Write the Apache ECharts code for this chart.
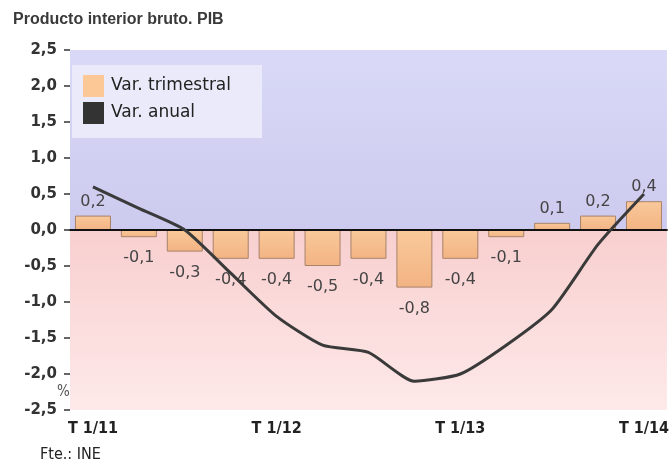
<!DOCTYPE html>
<html>
<head>
<meta charset="utf-8">
<script src="https://cdn.jsdelivr.net/npm/echarts@6/dist/echarts.min.js"></script>
<style>
  html, body { margin: 0; padding: 0; background: #fff; }
  #chart { width: 672px; height: 468px; }
</style>
</head>
<body>
<div id="chart"></div>
<script>
  // trimestres
  const categories = ['T 1/11', 'T 2/11', 'T 3/11', 'T 4/11', 'T 1/12', 'T 2/12', 'T 3/12',
    'T 4/12', 'T 1/13', 'T 2/13', 'T 3/13', 'T 4/13', 'T 1/14']
  const varTrimestral = [0.2, -0.1, -0.3, -0.4, -0.4, -0.5, -0.4, -0.8, -0.4, -0.1, 0.1, 0.2, 0.4]
  const varAnual = [0.6, 0.3, 0.0, -0.6, -1.2, -1.6, -1.7, -2.1, -2.0, -1.6, -1.1, -0.2, 0.5]

  const coma = v => Number(v).toFixed(1).replace('.', ',')
  const font = '"Liberation Sans", Arial, sans-serif'
  const wide = '"DejaVu Sans", Verdana, sans-serif'
  const narrow = '"Liberation Sans Narrow", "DejaVu Sans Condensed", "Liberation Sans", sans-serif'

  const barData = varTrimestral.map(v => ({
    value: v,
    label: v >= 0 ? { position: 'top', distance: 6 } : { position: 'bottom', distance: 13 }
  }))

  const chart = echarts.init(document.getElementById('chart'))
  chart.setOption({
    animation: false,
    title: {
      text: 'Producto interior bruto. PIB',
      left: 8, top: 7,
      textStyle: { fontFamily: font, fontSize: 16, fontWeight: 'bold', color: '#3a3a3a' }
    },
    legend: {
      orient: 'vertical',
      left: 72, top: 65,
      padding: [10, 31, 14, 11],
      backgroundColor: '#ebeafa',
      itemWidth: 21, itemHeight: 22, itemGap: 5,
      icon: 'rect',
      textStyle: { fontFamily: wide, fontSize: 17, color: '#222', padding: [0, 0, 0, 2] },
      data: [
        { name: 'Var. trimestral', itemStyle: { color: '#fcc896', borderWidth: 0 } },
        { name: 'Var. anual', itemStyle: { color: '#333333' } }
      ]
    },
    grid: { left: 70, right: 4, top: 50, bottom: 58 },
    xAxis: {
      type: 'category',
      data: categories,
      axisLine: { lineStyle: { color: '#222', width: 2 } },
      axisTick: { alignWithLabel: true, interval: 3, length: 6, lineStyle: { color: '#222', width: 2 } },
      axisLabel: { interval: 3, margin: 11, fontFamily: narrow, fontSize: 16, fontWeight: 'bold', color: '#222' }
    },
    yAxis: {
      type: 'value',
      min: -2.5, max: 2.5, interval: 0.5,
      axisLine: { show: false },
      axisTick: { show: true, length: 6, lineStyle: { color: '#333', width: 1.5 } },
      splitLine: { show: false },
      axisLabel: { margin: 13, formatter: coma, fontFamily: wide, fontSize: 15, fontWeight: 'bold', color: '#333' }
    },
    graphic: [
      { type: 'text', left: 57, top: 385, style: { text: '%', fontFamily: narrow, fontSize: 15, fill: '#555' } },
      { type: 'text', left: 40, top: 447, style: { text: 'Fte.: INE', fontFamily: narrow, fontSize: 16, fill: '#222' } }
    ],
    series: [
      {
        name: 'Var. trimestral',
        type: 'bar',
        data: barData,
        barWidth: 36,
        itemStyle: {
          color: new echarts.graphic.LinearGradient(0, 0, 0, 1, [
            { offset: 0, color: '#f9c99a' },
            { offset: 1, color: '#f3b383' }
          ]),
          borderColor: '#a8826a',
          borderWidth: 1
        },
        label: {
          show: true, formatter: p => coma(p.value),
          fontFamily: wide, fontSize: 16, color: '#444'
        },
        markArea: {
          silent: true,
          data: [
            [{ yAxis: 0, itemStyle: { color: new echarts.graphic.LinearGradient(0, 0, 0, 1, [
              { offset: 0, color: '#d9d9f7' }, { offset: 1, color: '#cccaee' }]) } }, { yAxis: 2.5 }],
            [{ yAxis: -2.5, itemStyle: { color: new echarts.graphic.LinearGradient(0, 0, 0, 1, [
              { offset: 0, color: '#f8cfcf' }, { offset: 1, color: '#fee9e9' }]) } }, { yAxis: 0 }]
          ]
        },
        markLine: {
          silent: true, symbol: 'none', label: { show: false },
          lineStyle: { color: '#111', width: 2, type: 'solid' },
          data: [{ yAxis: 0 }]
        }
      },
      {
        name: 'Var. anual',
        type: 'line',
        data: varAnual,
        smooth: 0.2,
        symbol: 'none',
        z: 5,
        itemStyle: { color: '#333333' },
        lineStyle: { color: '#3a3a3a', width: 3 }
      }
    ]
  })
</script>
</body>
</html>
